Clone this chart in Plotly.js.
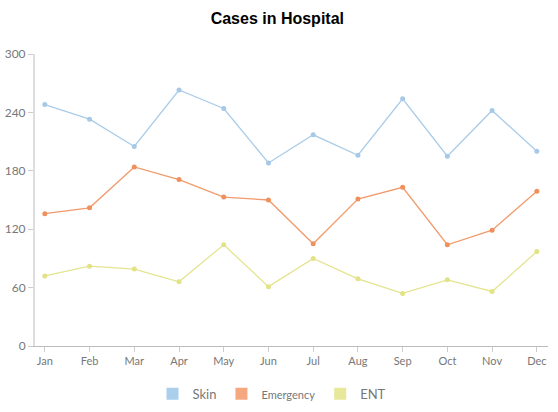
<!DOCTYPE html>
<html><head><meta charset="utf-8">
<script src="https://cdn.plot.ly/plotly-3.0.1.min.js"></script>
<style>html,body{margin:0;padding:0;background:#fff}#chart{width:558px;height:412px}</style>
</head><body><div id="chart"></div>
<script>
const months = ["Jan","Feb","Mar","Apr","May","Jun","Jul","Aug","Sep","Oct","Nov","Dec"];
const skin = [248, 233, 205, 263, 244, 188, 217, 196, 254, 195, 242, 200];
const emergency = [136, 142, 184, 171, 153, 150, 105, 151, 163, 104, 119, 159];
const ent = [72, 82, 79, 66, 104, 61, 90, 69, 54, 68, 56, 97];
const seriesNames = ["Skin", "Emergency", "ENT"];
const lineColors = ["#a9cbe8", "#f19a6b", "#e4e48f"];
const markColors = ["#a6c9e8", "#f0905c", "#e2e287"];
const legendColors = ["#aacfec", "#f5a880", "#e8e89a"];
const legendNames = ["Skin", "<span style='font-size:11px'>Emergency</span>", "ENT"];
const data = [skin, emergency, ent];

const traces = [];
data.forEach((ys, i) => {
  traces.push({
    type: "scatter", mode: "lines+markers", x: months, y: ys, name: seriesNames[i],
    line: {color: lineColors[i], width: 1.3},
    marker: {color: markColors[i], size: 5},
    showlegend: false
  });
});
data.forEach((ys, i) => {
  traces.push({
    type: "bar", x: [months[0]], y: [null], name: legendNames[i],
    marker: {color: legendColors[i]}, showlegend: true, hoverinfo: "skip"
  });
});

const layout = {
  width: 558, height: 412,
  margin: {l: 35, r: 10, t: 54, b: 66},
  paper_bgcolor: "#fff", plot_bgcolor: "#fff",
  title: {text: "<b>Cases in Hospital</b>", x: 0.497, xanchor: "center", y: 0.956, yanchor: "middle",
          font: {family: "Liberation Sans, Arial, sans-serif", size: 16, color: "#000"}},
  font: {family: "Lato, sans-serif", color: "#777", size: 11},
  xaxis: {
    type: "category", range: [-0.22, 11.25], showgrid: false, zeroline: false,
    showline: true, linecolor: "#bbb", linewidth: 1,
    ticks: "outside", ticklen: 5, tickcolor: "#ccc", tickwidth: 1,
    tickfont: {family: "Lato, sans-serif", size: 11, color: "#777"}, fixedrange: true
  },
  yaxis: {
    range: [0, 300], tickvals: [0, 60, 120, 180, 240, 300], showgrid: false, zeroline: false,
    showline: true, linecolor: "#ddd", linewidth: 2,
    ticks: "outside", ticklen: 5, tickcolor: "#ccc", tickwidth: 1,
    tickfont: {family: "Lato, sans-serif", size: 12, color: "#777"}, fixedrange: true
  },
  legend: {orientation: "h", x: 0.462, xanchor: "center", yref: "container", y: 0.044, yanchor: "middle",
           font: {family: "Lato, sans-serif", size: 13, color: "#777"}, itemwidth: 30},
  showlegend: true
};
Plotly.newPlot("chart", traces, layout, {displayModeBar: false, staticPlot: true});
</script></body></html>
